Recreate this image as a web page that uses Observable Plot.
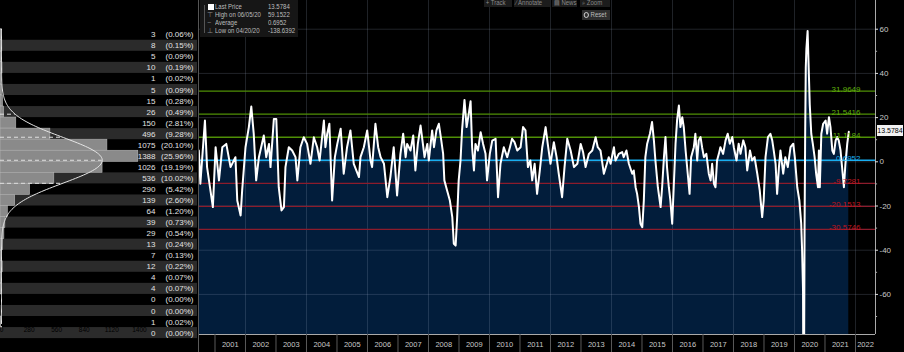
<!DOCTYPE html>
<html>
<head>
<meta charset="utf-8">
<script src="https://cdn.jsdelivr.net/npm/d3@7"></script>
<script src="https://cdn.jsdelivr.net/npm/@observablehq/plot@0.6"></script>
<style>
  html, body { margin:0; padding:0; background:#000; }
  body { width:904px; height:352px; overflow:hidden; position:relative;
         font-family:"Liberation Sans",Arial,sans-serif; }
  #left, #right { position:absolute; left:0; top:0; }
  .ov { position:absolute; font-size:7px; color:#bdbdbd; white-space:nowrap; }
  .sq { display:inline-block; transform:scaleX(0.86); transform-origin:left center; }
  .btn { position:absolute; background:#1c1c1c; color:#8a8a8a; font-size:7px; line-height:8px; height:8px; white-space:nowrap; overflow:hidden; }
</style>
</head>
<body>
<div id="left"></div>
<div id="right"></div>
<div id="legend" class="ov" style="left:200px;top:0;width:98px;height:37px;background:#161616;"></div>
<div id="toolbar"></div>
<div id="tag" class="ov" style="background:#f2f2f2;color:#000;height:11px;line-height:11px;font-size:7px;width:26px;text-align:center;"></div>
<script>
// ---------------- data ----------------
// time (decimal year) and value of the series
const T = [
2000.47,2000.52,2000.67,2000.74,2000.93,2001.02,2001.13,2001.24,2001.37,2001.51,2001.67,2001.73,2001.84,2001.89,
2002.00,2002.11,2002.19,2002.27,2002.35,2002.44,2002.60,2002.68,2002.77,2002.82,2002.93,
2003.01,2003.09,2003.18,2003.26,2003.31,2003.42,2003.53,2003.64,2003.70,2003.80,2003.91,
2004.02,2004.13,2004.24,2004.35,2004.43,2004.57,2004.62,2004.68,2004.75,2004.84,2004.93,
2005.01,2005.12,2005.22,2005.33,2005.44,2005.55,2005.72,2005.77,2005.88,2005.99,
2006.10,2006.15,2006.26,2006.35,2006.43,2006.54,2006.65,2006.75,2006.86,2006.97,
2007.08,2007.17,2007.25,2007.30,2007.41,2007.50,2007.57,2007.65,2007.74,2007.83,2007.87,2007.96,
2008.01,2008.12,2008.18,2008.26,2008.34,2008.42,2008.48,2008.52,2008.61,2008.70,2008.78,2008.83,2008.89,2008.94,2008.99,
2009.05,2009.10,2009.18,2009.25,2009.32,2009.38,2009.43,2009.49,2009.54,2009.62,2009.71,2009.79,2009.87,2009.92,
2010.01,2010.09,2010.20,2010.28,2010.36,2010.47,2010.58,2010.67,2010.74,2010.82,2010.91,
2011.02,2011.10,2011.18,2011.26,2011.34,2011.40,2011.48,2011.56,2011.65,2011.73,2011.84,2011.91,
2012.00,2012.11,2012.20,2012.27,2012.38,2012.46,2012.55,2012.66,2012.77,2012.88,2012.99,
2013.07,2013.15,2013.26,2013.37,2013.48,2013.55,2013.64,2013.75,2013.91,2013.97,
2014.08,2014.13,2014.24,2014.35,2014.40,2014.49,2014.57,2014.68,2014.73,2014.79,2014.84,2014.90,2014.95,
2015.01,2015.06,2015.11,2015.17,2015.26,2015.33,2015.39,2015.44,2015.52,2015.61,2015.66,2015.72,2015.77,2015.82,2015.88,2015.93,2015.99,
2016.04,2016.10,2016.15,2016.21,2016.26,2016.32,2016.37,2016.43,2016.50,2016.56,2016.61,2016.70,2016.75,2016.81,2016.86,2016.92,2016.97,
2017.03,2017.11,2017.19,2017.25,2017.30,2017.36,2017.41,2017.46,2017.52,2017.57,2017.66,2017.74,2017.81,2017.88,2017.96,
2018.01,2018.10,2018.17,2018.23,2018.32,2018.39,2018.45,2018.54,2018.61,2018.69,2018.78,2018.86,2018.94,2018.99,
2019.05,2019.13,2019.21,2019.27,2019.32,2019.38,2019.43,2019.49,2019.54,2019.63,2019.70,2019.78,2019.87,2019.96,
2020.01,2020.09,2020.16,2020.22,2020.25,2020.28,2020.30,2020.33,2020.35,2020.37,2020.39,2020.43,2020.46,2020.50,2020.55,2020.60,2020.66,2020.71,2020.77,2020.80,2020.83,2020.88,2020.94,
2021.02,2021.07,2021.13,2021.18,2021.24,2021.29,2021.35,2021.40,2021.45,2021.51,2021.56,2021.62,2021.67,2021.73,2021.78
];
const V = [
5.1,-9.9,18.7,-2.4,-20.5,6.6,-8.4,6.6,8.1,-2.4,2.1,-17.5,-24.3,-13.0,
6.6,15.7,25.0,12.7,-8.4,2.1,11.9,2.1,8.1,-2.4,19.4,
19.4,-11.5,-22.0,-20.5,-2.4,6.6,5.1,2.1,-8.4,6.6,11.1,
8.1,-0.9,11.1,6.6,0.6,18.7,6.6,12.7,17.2,-17.5,2.1,
8.1,15.0,-5.4,6.6,14.2,-0.9,-6.9,2.1,6.6,14.2,
0.6,-2.4,17.2,6.6,2.1,-0.9,-16.0,-6.9,6.6,-15.2,
3.6,12.7,2.1,8.1,5.1,11.9,-3.9,8.1,16.4,6.6,2.1,8.1,
0.6,14.2,6.6,14.2,17.2,9.6,3.6,-8.4,-13.0,-17.5,-25.0,-37.1,-37.9,-25.0,-8.4,
0.6,14.2,28.0,15.7,21.7,27.4,6.6,-3.9,8.1,5.1,13.4,8.1,3.6,-8.4,
3.6,9.6,10.4,-16.0,-0.9,6.6,2.1,6.6,10.4,8.9,5.1,
6.6,15.7,14.2,-2.4,0.6,-8.4,-0.9,-14.5,-3.9,6.6,15.7,8.1,
-0.9,8.9,2.1,-5.4,-16.0,-2.4,10.4,5.1,-2.4,-0.9,8.1,
4.3,-2.4,3.6,5.1,11.1,6.6,5.1,-5.4,2.1,-0.9,
6.6,0.6,3.6,4.4,2.1,5.1,-0.9,-5.4,-3.9,-11.5,-14.5,-20.5,-28.0,
-29.6,-17.5,2.1,8.2,12.7,18.0,9.7,0.6,-11.5,-20.5,-11.5,2.1,11.2,-2.4,-11.5,-17.5,-28.0,
-11.5,8.2,18.7,25.5,15.7,20.2,15.7,5.1,-5.4,-14.5,2.1,6.6,12.7,0.6,9.7,11.2,6.6,
2.1,3.6,-5.4,-8.4,-0.9,-10.0,-11.5,0.6,3.6,6.6,3.6,9.7,12.7,8.2,11.2,
6.6,0.6,8.2,3.6,9.7,6.6,-3.9,5.1,0.6,2.1,-5.4,-12.9,-25.0,-17.5,
2.1,11.2,12.7,9.7,5.1,-0.9,-14.5,-2.4,5.1,-5.4,2.1,-2.4,6.6,8.2,
2.1,-11.5,-17.5,-28.0,-40.1,-58.2,-138.6392,-32.6,12.7,42.8,51.0,59.1522,45.0,26.0,12.7,8.2,2.1,-5.4,-11.5,5.1,-11.5,12.7,17.2,
18.7,12.7,20.2,15.7,5.1,3.6,9.7,11.2,9.7,5.1,-2.4,-11.5,-0.9,8.2,13.5784
];

// reference lines (mean and +/- 1,2,3 standard deviations)
const REF_VALUES = [31.9649, 21.5416, 11.1184, 0.6952, -9.7281, -20.1513, -30.5746];
const REF_LABELS = ["31.9649","21.5416","11.1184","0.6952","-9.7281","-20.1513","-30.5746"];
const REF_KIND   = ["up","up","up","mean","down","down","down"];

// y-axis ticks
const Y_TICKS = [-60,-40,-20,0,20,40,60];
const Y_MINOR = [-70,-50,-30,-10,10,30,50];

// years on the x axis
const YEARS = [2001,2002,2003,2004,2005,2006,2007,2008,2009,2010,2011,2012,2013,2014,2015,2016,2017,2018,2019,2020,2021,2022];
const YEAR_LABELS = ["2001","2002","2003","2004","2005","2006","2007","2008","2009","2010","2011","2012","2013","2014","2015","2016","2017","2018","2019","2020","2021","2022"];

// histogram (bins of 5, lower edges), counts and share labels
const HIST_LO = [55,50,45,40,35,30,25,20,15,10,5,0,-5,-10,-15,-20,-25,-30,-35,-40,-45,-50,-55,-60,-65,-70,-75,-80];
const HIST_COUNT = [3,8,5,10,1,5,15,26,150,496,1075,1388,1026,536,290,139,64,39,29,13,7,12,4,4,0,0,1,0];
const HIST_PCT = ["(0.06%)","(0.15%)","(0.09%)","(0.19%)","(0.02%)","(0.09%)","(0.28%)","(0.49%)","(2.81%)","(9.28%)","(20.10%)","(25.96%)","(19.19%)","(10.02%)","(5.42%)","(2.60%)","(1.20%)","(0.73%)","(0.54%)","(0.24%)","(0.13%)","(0.22%)","(0.07%)","(0.07%)","(0.00%)","(0.00%)","(0.02%)","(0.00%)"];
const HIST_TICKS = [0,280,560,840,1120,1400];

// legend and toolbar
const LEGEND_NAMES = ["Last Price","High on 06/05/20","Average","Low on 04/20/20"];
const LEGEND_VALUES = ["13.5784","59.1522","0.6952","-138.6392"];
const TOOL_NAMES = ["+ Track","\u2215 Annotate","\u25A4 News","\u2315 Zoom"];

// ---------------- styles ----------------
const FONT = `"Liberation Sans",Arial,sans-serif`;
const NAVY = "#021d3b";
const REF_COLOR = {up:"#4f8f06", mean:"#19aef0", down:"#8c1c2c"};
const REF_TEXT = {up:"#5fae0a", mean:"#19aef0", down:"#c0141e"};
const X0 = 2000.459, X1 = 2022.656, Y0 = -78.14, Y1 = 72.99;

const series = T.map((t, i) => ({t, v: V[i]}));
const refs = REF_VALUES.map((v, i) => ({v, label: REF_LABELS[i], kind: REF_KIND[i]}));
const seps = [X0, ...YEARS];
const yearText = YEARS.map((y, i) => ({x: Math.min(y + 0.5, (y + X1) / 2), label: YEAR_LABELS[i]}));
const evenYears = YEARS.filter(y => y % 2 === 0);
const TICK_LEN = (X1 - X0) / 677 * 3; // 3px in data units

// ---------------- right chart ----------------
const right = Plot.plot({
  width: 904, height: 352,
  marginLeft: 198, marginRight: 29, marginTop: 0, marginBottom: 18,
  style: {background: "transparent", color: "#c8c8c8", fontFamily: FONT, fontSize: "8px"},
  x: {domain: [X0, X1], axis: null},
  y: {domain: [Y0, Y1], axis: null},
  marks: [
    Plot.areaY(series, {x: "t", y1: () => Y0, y2: "v", fill: NAVY, clip: true}),
    Plot.ruleY(Y_TICKS, {stroke: "#9fb0c8", strokeOpacity: 0.2, strokeWidth: 1}),
    Plot.ruleX(evenYears, {stroke: "#9fb0c8", strokeOpacity: 0.2, strokeWidth: 1}),
    Plot.ruleY(refs, {y: "v", stroke: d => REF_COLOR[d.kind], strokeWidth: 1.3}),
    Plot.line(series, {x: "t", y: "v", stroke: "#ffffff", strokeWidth: 2, clip: true}),
    Plot.text(refs, {y: "v", text: "label", frameAnchor: "right", dx: -15, dy: 1, textAnchor: "end", lineAnchor: "bottom",
      fill: d => REF_TEXT[d.kind], fontSize: 8}),
    Plot.ruleX([X0], {stroke: "#555"}),
    Plot.ruleX([X1], {stroke: "#aaa"}),
    Plot.ruleY([Y0], {stroke: "#aaa"}),
    // right y axis: ticks and labels
    Plot.ruleY(Y_TICKS, {x1: X1, x2: X1 + TICK_LEN, stroke: "#ddd"}),
    Plot.ruleY(Y_MINOR, {x1: X1, x2: X1 + TICK_LEN * 0.7, stroke: "#aaa"}),
    Plot.text(Y_TICKS, {y: d => d, text: d => String(d), frameAnchor: "right", dx: 4, textAnchor: "start", fill: "#c8c8c8", fontSize: 8}),
    // x axis: year separators and labels
    Plot.axisX({anchor: "bottom", ticks: seps, tickSize: 18, tickFormat: () => "", stroke: "#5a5a5a"}),
    Plot.text(yearText, {x: "x", text: "label", frameAnchor: "bottom", dy: 12, fill: "#c8c8c8", fontSize: 7.5})
  ]
});
right.setAttribute("style", "background:transparent;font-family:" + FONT);
document.getElementById("right").appendChild(right);

// ---------------- left histogram ----------------
const MEAN = REF_VALUES[3];
const SD = (REF_VALUES[0] - REF_VALUES[3]) / 3;
const TOTAL = d3.sum(HIST_COUNT);
const BIN = 5;
const fit = y => TOTAL * BIN * Math.exp(-0.5 * ((y - MEAN) / SD) ** 2) / (SD * Math.sqrt(2 * Math.PI));
const curve = d3.range(HIST_LO[HIST_LO.length - 1] + BIN, HIST_LO[0] + BIN + 0.01, 0.5).map(y => ({y, x: fit(y)}));
const rows = HIST_LO.map((lo, i) => ({lo, hi: lo + BIN, n: HIST_COUNT[i], pct: HIST_PCT[i], i}));
const sdLines = [-1, 0, 1, 2].map(k => ({y: MEAN + k * SD, x: fit(MEAN + k * SD)}));

const left = Plot.plot({
  width: 197, height: 352,
  marginLeft: 1, marginRight: 0, marginTop: 0, marginBottom: 18,
  style: {background: "transparent", color: "#b0b0b0", fontFamily: FONT, fontSize: "8px"},
  x: {domain: [0, 1990], axis: null},
  y: {domain: [Y0, Y1], axis: null},
  marks: [
    Plot.rect(rows.filter(d => d.i % 2 === 1), {x1: 0, x2: 1990, y1: "lo", y2: "hi", fill: "#2b2b2b", insetLeft: -1}),
    Plot.rect(rows.filter(d => d.n > 0), {x1: 0, x2: "n", y1: "lo", y2: "hi", fill: "#8a8a8a", stroke: "#b5b5b5", strokeWidth: 0.6, insetLeft: -1}),
    Plot.ruleY(sdLines, {y: "y", x1: 0, x2: "x", stroke: "#e0e0e0", strokeDasharray: "4,3", strokeWidth: 1, insetLeft: -1}),
    Plot.line(curve, {x: "x", y: "y", stroke: "#e6e6e6", strokeWidth: 1}),
    Plot.text(rows, {y: d => (d.lo + d.hi) / 2, text: d => String(d.n), frameAnchor: "right", dx: -42, textAnchor: "end", fill: "#e2e2e2", fontSize: 8}),
    Plot.text(rows, {y: d => (d.lo + d.hi) / 2, text: "pct", frameAnchor: "right", dx: -4, textAnchor: "end", fill: "#e2e2e2", fontSize: 8}),
    Plot.axisX({anchor: "bottom", ticks: HIST_TICKS, tickSize: 2, tickPadding: 1, dy: -10, fontSize: 6.5, tickFormat: d => String(d)}),
    Plot.ruleX([1990], {stroke: "#555"})
  ]
});
left.setAttribute("style", "background:transparent;font-family:" + FONT);
document.getElementById("left").appendChild(left);

// ---------------- overlays ----------------
const legend = document.getElementById("legend");
const glyph = ["", "\u22A4", "\u2212", "\u22A5"];
LEGEND_NAMES.forEach((name, i) => {
  const top = 3 + i * 8;
  const row = document.createElement("div");
  row.className = "ov";
  row.style.cssText = `left:0;top:${top}px;width:98px;height:8px;line-height:8px;`;
  row.innerHTML =
    (i === 0
      ? `<span style="position:absolute;left:8px;top:1px;width:6px;height:6px;background:#fff"></span>`
      : `<span style="position:absolute;left:7px;top:0;color:#888">${glyph[i]}</span>`) +
    `<span class="sq" style="position:absolute;left:15px;top:0">${name}</span>` +
    `<span class="sq" style="position:absolute;left:68px;top:0">${LEGEND_VALUES[i]}</span>`;
  legend.appendChild(row);
});
const tree = document.createElement("div");
tree.style.cssText = "position:absolute;left:4px;top:5px;width:1px;height:28px;background:#555";
legend.appendChild(tree);

const toolbar = document.getElementById("toolbar");
const toolX = [484, 514, 552, 580];
const toolW = [28, 36, 25, 30];
TOOL_NAMES.forEach((name, i) => {
  const b = document.createElement("div");
  b.className = "btn";
  b.style.left = toolX[i] + "px";
  b.style.width = toolW[i] + "px";
  b.style.top = "-1px";
  b.innerHTML = `<span class="sq" style="padding-left:2px">${name}</span>`;
  toolbar.appendChild(b);
});
const reset = document.createElement("div");
reset.className = "btn";
reset.style.cssText = "left:582px;top:10px;width:28px;background:#2e2e2e;color:#bbb;height:10px;line-height:10px;";
reset.innerHTML = `<span class="sq" style="padding-left:2px"><span style="display:inline-block;width:4px;height:4px;border-radius:50%;border:1px solid #ddd;margin-right:2px;vertical-align:middle"></span>Reset</span>`;
toolbar.appendChild(reset);

const yScale = right.scale("y");
const tag = document.getElementById("tag");
const last = V[V.length - 1];
tag.textContent = LEGEND_VALUES[0];
tag.style.left = "877px";
tag.style.top = (yScale.apply(last) - 6) + "px";
</script>
</body>
</html>
